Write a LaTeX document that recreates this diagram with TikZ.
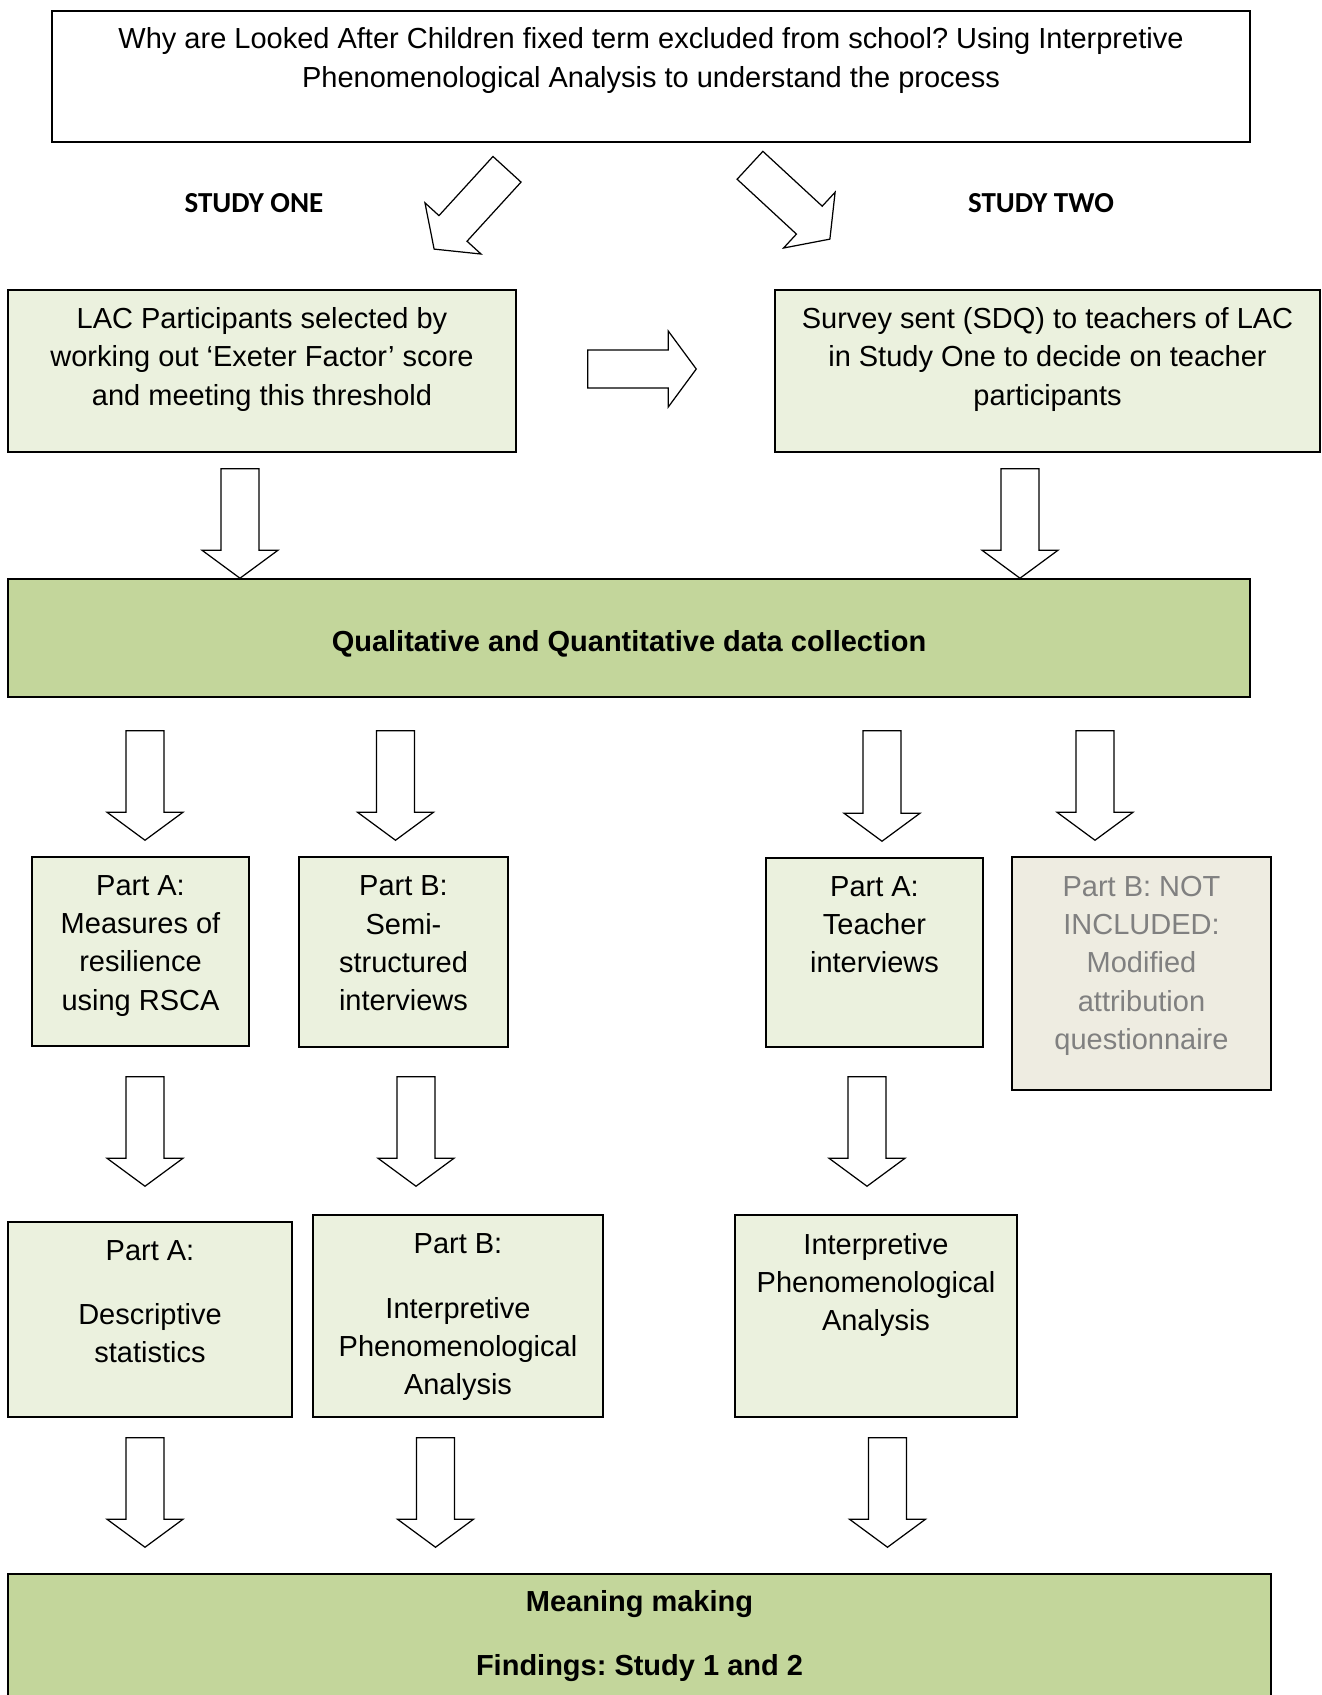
\documentclass[tikz,border=0pt]{standalone}
\usepackage{fontspec}
\setmainfont{Liberation Sans}
\newfontfamily\calibri{Carlito}
\usepackage{tikz}
\usetikzlibrary{calc}
\definecolor{palegreen}{HTML}{EBF1DE}
\definecolor{olivegreen}{HTML}{C3D69B}
\definecolor{tanbg}{HTML}{EEECE1}
\definecolor{greytext}{HTML}{808080}
\frenchspacing
\tikzset{every node/.style={font=\fontsize{16.5pt}{21.8pt}\selectfont}}
\newcommand{\pad}[1]{\\[#1]\mbox{}}

\begin{document}
\begin{tikzpicture}[
x=0.02cm, y=-0.02cm,
box/.style={
draw,
line width=0.9pt,
rectangle,
align=center,
inner sep=0pt
},
lightbox/.style={box, fill=palegreen},
darkbox/.style={box, fill=olivegreen, font=\fontsize{16.5pt}{21.8pt}\selectfont\bfseries},
greybox/.style={box, fill=tanbg, text=greytext},
studylabel/.style={font=\fontsize{16.5pt}{20pt}\selectfont\calibri\bfseries},
fatarrow/.style={draw, fill=white, line width=0.7pt,
to path={let \p1=(\tikztostart), \p2=(\tikztotarget),
\n1={atan2(\y2-\y1,\x2-\x1)}, \n2={veclen(\x2-\x1,\y2-\y1)} in
[shift={(\p1)}, rotate=\n1]
(0cm,0.38cm) -- ({\n2*1pt-0.56cm},0.38cm) -- ({\n2*1pt-0.56cm},0.76cm)
-- ({\n2*1pt},0cm) -- ({\n2*1pt-0.56cm},-0.76cm) -- ({\n2*1pt-0.56cm},-0.38cm)
-- (0cm,-0.38cm) -- cycle}}
]
\clip (0,0) rectangle (1322,1695);

% question
\node[box, minimum width=23.96cm, minimum height=2.62cm] (title) at (651,76.5)
{Why are Looked After Children fixed term excluded from school? Using Interpretive\\
Phenomenological Analysis to understand the process\pad{0cm}};

\node[studylabel] (studyone) at (254,203) {STUDY ONE};
\node[studylabel] (studytwo) at (1041,203) {STUDY TWO};

% participants
\node[lightbox, minimum width=10.16cm, minimum height=3.24cm] (lac) at (262,371)
{LAC Participants selected by\\working out ‘Exeter Factor’ score\\and meeting this threshold\pad{-0.18cm}};

\node[lightbox, minimum width=10.9cm, minimum height=3.24cm] (survey) at (1047.5,371)
{Survey sent (SDQ) to teachers of LAC\\in Study One to decide on teacher\\participants\pad{-0.18cm}};

\node[darkbox, minimum width=24.84cm, minimum height=2.36cm] (qual) at (629,638)
{\raisebox{-0.11cm}[\height][\depth]{Qualitative and Quantitative data collection}};

% data collection
\node[lightbox, minimum width=4.34cm, minimum height=3.78cm] (measures) at (140.5,951.5)
{Part A:\\Measures of\\resilience\\using RSCA\pad{-0.42cm}};

\node[lightbox, minimum width=4.18cm, minimum height=3.8cm] (semi) at (403.5,952)
{Part B:\\Semi-\\structured\\interviews\pad{-0.42cm}};

\node[lightbox, minimum width=4.34cm, minimum height=3.78cm] (teacher) at (874.5,952.5)
{Part A:\\Teacher\\interviews\pad{0.36cm}};

\node[greybox, minimum width=5.18cm, minimum height=4.66cm] (attrib) at (1141.5,973.5)
{Part B: NOT\\INCLUDED:\\Modified\\attribution\\questionnaire\pad{-0.34cm}};

% analysis
\node[lightbox, minimum width=5.68cm, minimum height=3.9cm] (descr) at (150,1319.5)
{Part A:\\[0.52cm]Descriptive\\statistics\pad{-0.04cm}};

\node[lightbox, minimum width=5.8cm, minimum height=4.04cm] (ipaone) at (458,1316)
{Part B:\\[0.52cm]Interpretive\\Phenomenological\\Analysis\pad{-0.7cm}};

\node[lightbox, minimum width=5.64cm, minimum height=4.04cm] (ipatwo) at (876,1316)
{Interpretive\\Phenomenological\\Analysis\pad{0.6cm}};

\node[darkbox, minimum width=25.26cm, minimum height=2.48cm] (meaning) at (639.5,1636)
{Meaning making\\[0.5cm]Findings: Study 1 and 2};

% block arrows
\draw[fatarrow] ($(title.south)+(-144,26.5)$) to ($(lac.north)+(172,-40)$);
\draw[fatarrow] ($(title.south)+(99,22.5)$) to ($(survey.north)+(-217.5,-50)$);
\draw[fatarrow] ($(lac.east)+(71,-2)$) to ($(survey.west)+(-78,-2)$);

\draw[fatarrow] ($(lac.south)+(-22,16)$) to ($(qual.north)+(-389,0)$);
\draw[fatarrow] ($(survey.south)+(-27.5,16)$) to ($(qual.north)+(391,0)$);

\draw[fatarrow] ($(qual.south -| measures.north)+(4.5,33)$) to ($(measures.north)+(4.5,-16)$);
\draw[fatarrow] ($(qual.south -| semi.north)+(-8,33)$) to ($(semi.north)+(-8,-16)$);
\draw[fatarrow] ($(qual.south -| teacher.north)+(7.5,33)$) to ($(teacher.north)+(7.5,-16)$);
\draw[fatarrow] ($(qual.south -| attrib.north)+(-46.5,33)$) to ($(attrib.north)+(-46.5,-16)$);

\draw[fatarrow] ($(measures.south)+(4.5,30)$) to ($(descr.north)+(-5,-35)$);
\draw[fatarrow] ($(semi.south)+(12.5,29)$) to ($(ipaone.north)+(-42,-28)$);
\draw[fatarrow] ($(teacher.south)+(-7.5,29)$) to ($(ipatwo.north)+(-9,-28)$);

\draw[fatarrow] ($(descr.south)+(-5,20)$) to ($(descr.south |- meaning.north)+(-5,-26)$);
\draw[fatarrow] ($(ipaone.south)+(-22.5,20)$) to ($(ipaone.south |- meaning.north)+(-22.5,-26)$);
\draw[fatarrow] ($(ipatwo.south)+(11.5,20)$) to ($(ipatwo.south |- meaning.north)+(11.5,-26)$);
\end{tikzpicture}
\end{document}
